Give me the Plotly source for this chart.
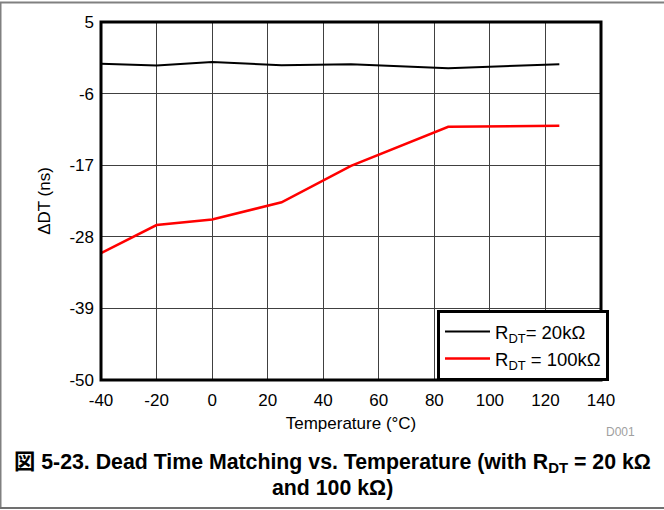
import plotly.graph_objects as go

temps = [-40, -20, 0, 25, 50, 85, 125]
rdt20 = [-1.4, -1.7, -1.15, -1.65, -1.5, -2.1, -1.5]
rdt100 = [-30.5, -26.2, -25.35, -22.7, -17.1, -11.1, -10.95]
xticks = [-40, -20, 0, 20, 40, 60, 80, 100, 120, 140]
yticks = [5, -6, -17, -28, -39, -50]

L, R, T, B = 101, 601, 22, 380
W, H = 664, 510
def px(x):
    return (x - L) / (R - L)
def py(y):
    return (B - y) / (B - T)

font = "Liberation Sans, Arial, Noto Sans CJK JP, sans-serif"

fig = go.Figure()
fig.add_trace(go.Scatter(x=temps, y=rdt20, mode="lines", name="R<sub>DT</sub>= 20kΩ",
                         line=dict(color="black", width=2)))
fig.add_trace(go.Scatter(x=temps, y=rdt100, mode="lines", name="R<sub>DT</sub> = 100kΩ",
                         line=dict(color="#ff0000", width=2.5)))

fig.update_layout(
    width=W, height=H,
    margin=dict(l=L, r=W - R, t=T, b=H - B),
    plot_bgcolor="white", paper_bgcolor="white",
    font=dict(family=font, size=17, color="black"),
    xaxis=dict(range=[-40, 140], tickvals=xticks, ticktext=[str(v) for v in xticks],
               showgrid=True, gridcolor="#404040", gridwidth=1, zeroline=False,
               showline=False, ticks="", ticklabelstandoff=8,
               tickfont=dict(size=17),
               title=dict(text="Temperature (°C)", standoff=8, font=dict(size=17))),
    yaxis=dict(range=[-50, 5], tickvals=yticks, ticktext=[str(v) for v in yticks],
               showgrid=True, gridcolor="#404040", gridwidth=1, zeroline=False,
               showline=False, ticks="", ticklabelstandoff=6,
               tickfont=dict(size=17),
               title=dict(text="ΔDT (ns)", standoff=14, font=dict(size=17))),
    legend=dict(x=px(609), y=py(381), xanchor="right", yanchor="bottom",
                bgcolor="white", bordercolor="black", borderwidth=3,
                font=dict(size=18.5), tracegroupgap=0, itemwidth=45),
    showlegend=True,
)

shapes = [
    dict(type="rect", xref="paper", yref="paper", x0=0, x1=1, y0=0, y1=1,
         line=dict(color="black", width=3), layer="above"),
    dict(type="line", xref="paper", yref="paper", x0=px(0), x1=px(664), y0=py(2.5), y1=py(2.5),
         line=dict(color="#808080", width=2)),
    dict(type="line", xref="paper", yref="paper", x0=px(0.5), x1=px(0.5), y0=py(2), y1=py(508),
         line=dict(color="#808080", width=2)),
    dict(type="line", xref="paper", yref="paper", x0=px(0), x1=px(664), y0=py(508), y1=py(508),
         line=dict(color="#707070", width=2)),
]
fig.update_layout(shapes=shapes)

fig.add_annotation(text="D001", xref="paper", yref="paper", x=px(637), y=py(432),
                   xanchor="right", yanchor="middle", showarrow=False,
                   font=dict(size=12, color="#a0a0a0"))
fig.add_annotation(text="<b>図 5-23. Dead Time Matching vs. Temperature (with R<sub>DT</sub> = 20 kΩ</b>",
                   xref="paper", yref="paper", x=px(332), y=py(463),
                   xanchor="center", yanchor="middle", showarrow=False,
                   font=dict(size=21.3, family=font))
fig.add_annotation(text="<b>and 100 kΩ)</b>",
                   xref="paper", yref="paper", x=px(332), y=py(488),
                   xanchor="center", yanchor="middle", showarrow=False,
                   font=dict(size=21.3, family=font))

fig.write_html("out.html", config={"displayModeBar": False},
               post_script="document.body.style.margin='0';")
